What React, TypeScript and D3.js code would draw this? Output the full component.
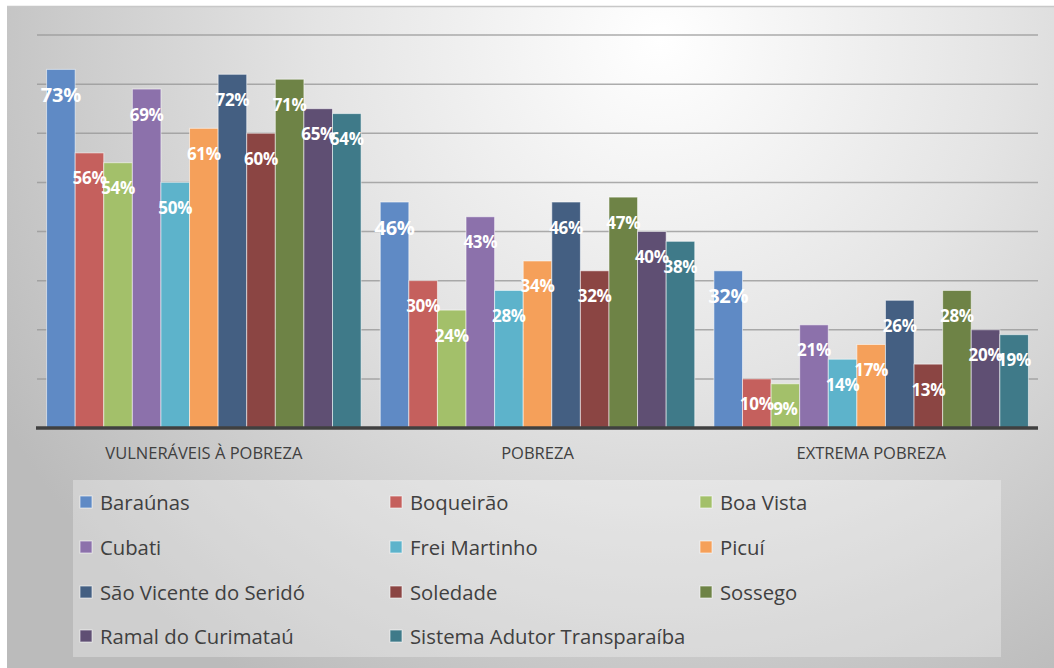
import React from 'react'
import * as d3 from 'd3'

const categories = ['VULNERÁVEIS À POBREZA', 'POBREZA', 'EXTREMA POBREZA']
const seriesNames = [
  'Baraúnas', 'Boqueirão', 'Boa Vista', 'Cubati', 'Frei Martinho', 'Picuí',
  'São Vicente do Seridó', 'Soledade', 'Sossego', 'Ramal do Curimataú', 'Sistema Adutor Transparaíba',
]
const vulneraveis = [73, 56, 54, 69, 50, 61, 72, 60, 71, 65, 64]
const pobreza = [46, 30, 24, 43, 28, 34, 46, 32, 47, 40, 38]
const extrema = [32, 10, 9, 21, 14, 17, 26, 13, 28, 20, 19]
const yTicks = [0, 10, 20, 30, 40, 50, 60, 70, 80]

const colors = [
  '#5f8ac5', '#c5605d', '#a3c06a', '#8c71ab', '#5db3cb', '#f5a05a',
  '#445f82', '#8b4543', '#6e8346', '#5f4f73', '#3f7a89',
]

const W = 1054
const H = 668
const plot = { left: 37, right: 1038, top: 35, bottom: 428 }
const font = '"Open Sans", "Noto Sans", sans-serif'

const App = () => {
  const table = [vulneraveis, pobreza, extrema]

  const x0 = d3.scaleBand().domain(categories).range([plot.left, plot.right])
  const inner = x0.bandwidth() / (11 + 0.67)
  const x1 = d3.scaleBand()
    .domain(seriesNames)
    .range([inner * 0.335, x0.bandwidth() - inner * 0.335])
  const y = d3.scaleLinear().domain([0, 80]).range([plot.bottom, plot.top])

  const legendCols = [76, 386, 696]
  const legendRows = [502, 547, 592, 636]

  return (
    <svg width={W} height={H} style={{ position: 'absolute', left: 0, top: 0 }}>
      <defs>
        <radialGradient id="bg" cx="660" cy="40" r="760" gradientUnits="userSpaceOnUse">
          <stop offset="0" stopColor="#ffffff" />
          <stop offset="0.45" stopColor="#e4e4e4" />
          <stop offset="1" stopColor="#bbbbbb" />
        </radialGradient>
      </defs>
      <rect x={0} y={0} width={W} height={H} fill="#ffffff" />
      <rect x={7} y={6} width={W} height={H} fill="url(#bg)" />
      <line x1={7} x2={W} y1={6.5} y2={6.5} stroke="#c8c8c8" strokeWidth={1.5} />

      {yTicks.slice(1).map(t => (
        <line key={t} x1={plot.left} x2={plot.right} y1={y(t)} y2={y(t)}
          stroke="#999999" strokeOpacity={0.8} strokeWidth={1.5} />
      ))}

      {categories.map((c, ci) => (
        <g key={c} transform={`translate(${x0(c)},0)`}>
          {seriesNames.map((s, si) => {
            const v = table[ci][si]
            const bx = x1(s) as number
            return (
              <rect key={s} x={bx} y={y(v)} width={x1.bandwidth()} height={plot.bottom - y(v)}
                fill={colors[si]} stroke="#ffffff" strokeOpacity={0.55} strokeWidth={1} />
            )
          })}
          {seriesNames.map((s, si) => {
            const v = table[ci][si]
            const bx = (x1(s) as number) + x1.bandwidth() / 2
            return (
              <text key={s} x={bx} y={y(v) + 25} textAnchor="middle" dominantBaseline="central"
                fill="#ffffff" fontWeight="bold" fontFamily={font} fontSize={si === 0 ? 20 : 17}
                letterSpacing={-0.3}>
                {v}%
              </text>
            )
          })}
          <text x={x0.bandwidth() / 2} y={452} textAnchor="middle" dominantBaseline="central"
            fill="#404040" fontFamily={font} fontSize={16.5}>
            {c}
          </text>
        </g>
      ))}

      <line x1={plot.left - 1} x2={plot.right} y1={plot.bottom} y2={plot.bottom} stroke="#404040" strokeWidth={3.5} />

      <rect x={73} y={480} width={928} height={177} fill="#ffffff" fillOpacity={0.3} />
      {seriesNames.map((s, i) => {
        const lx = legendCols[i % 3]
        const ly = legendRows[Math.floor(i / 3)]
        return (
          <g key={s}>
            <rect x={lx + 4} y={ly - 6} width={12} height={12} fill={colors[i]} stroke="#ffffff" strokeOpacity={0.6} />
            <text x={lx + 24} y={ly} dominantBaseline="central" fill="#404040" fontFamily={font} fontSize={20.3}>
              {s}
            </text>
          </g>
        )
      })}
    </svg>
  )
}

export default App
